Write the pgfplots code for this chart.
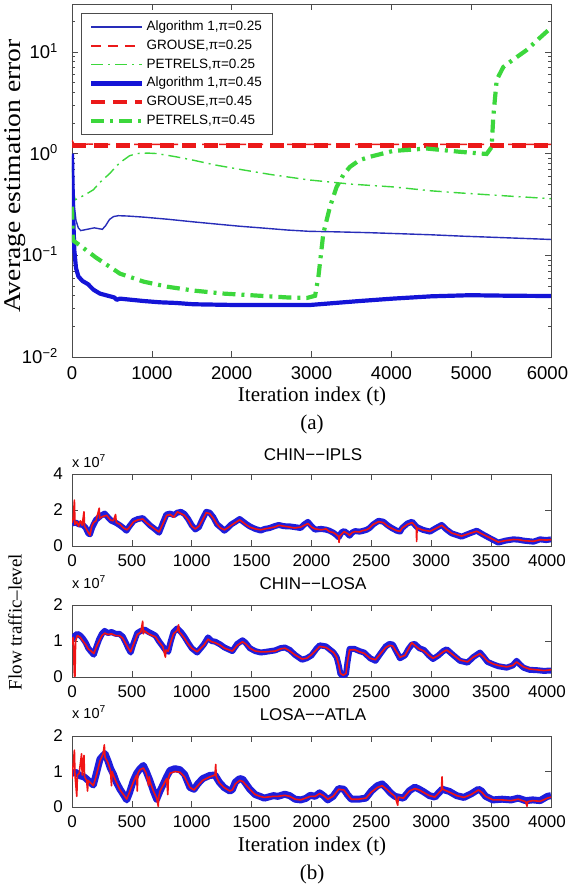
\documentclass[border=0pt]{standalone}
\usepackage{pgfplots}
\pgfplotsset{compat=1.18}
\usepackage{pgfplotstable}
\usepackage{graphicx}
\usepackage{fontspec}
\setmainfont{Liberation Serif}
\setsansfont{Liberation Sans}
\definecolor{mblue}{RGB}{20,20,215}
\definecolor{mbluethin}{RGB}{40,45,185}
\definecolor{mred}{RGB}{235,25,25}
\definecolor{mgreen}{RGB}{60,215,60}
\definecolor{bblue}{RGB}{30,30,220}
\definecolor{bred}{RGB}{240,20,20}

\pgfplotstableread{
t v
0 0.95
15 0.5
30 0.3
50 0.22
80 0.185
110 0.175
160 0.178
220 0.182
280 0.186
330 0.183
380 0.18
420 0.195
470 0.225
520 0.24
580 0.245
700 0.243
900 0.237
1200 0.226
1520 0.213
1800 0.203
2100 0.193
2400 0.185
2700 0.177
2970 0.172
3300 0.170
3700 0.167
4100 0.163
4500 0.159
4900 0.154
5300 0.150
5700 0.146
6000 0.143
}\algA

\pgfplotstableread{
t v
0 1.35
40 1.18
80 1.28
120 1.22
200 1.24
400 1.23
6000 1.23
}\grA

\pgfplotstableread{
t v
0 0.75
15 0.45
38 0.35
100 0.37
180 0.4
267 0.44
350 0.52
476 0.64
560 0.76
643 0.86
720 0.95
810 1.0
950 1.01
1060 1.0
1300 0.93
1520 0.86
1800 0.77
2145 0.69
2500 0.62
2970 0.55
3500 0.5
4020 0.47
4500 0.43
4860 0.41
5400 0.385
6000 0.36
}\peA

\pgfplotstableread{
t v
0 1.0
8 0.45
18 0.2
30 0.11
50 0.075
80 0.062
130 0.056
200 0.052
267 0.046
350 0.042
450 0.04
530 0.0385
560 0.0365
600 0.0375
700 0.0368
900 0.0355
1100 0.0345
1300 0.034
1520 0.033
2000 0.0325
2500 0.0325
2970 0.0324
3300 0.034
3600 0.0355
4020 0.0375
4500 0.0395
4985 0.0405
5500 0.0400
6000 0.0398
}\algB

\pgfplotstableread{
t v
0 1.2
6000 1.2
}\grB

\pgfplotstableread{
t v
0 0.3
8 0.18
13 0.14
100 0.125
300 0.095
601 0.066
900 0.055
1200 0.049
1520 0.045
1900 0.042
2353 0.040
2700 0.0385
2940 0.038
3045 0.040
3086 0.061
3148 0.164
3232 0.30
3315 0.47
3400 0.62
3482 0.74
3600 0.86
3733 0.93
4020 1.06
4443 1.12
4860 1.04
5194 0.99
5257 1.16
5277 2.3
5320 5.3
5403 7.1
5528 8.4
5695 10.4
5850 13.5
5966 16.3
6000 17.5
}\peB

% ---------- panel b1: CHIN--IPLS ----------
\pgfplotstableread{
t v
0 1.25
30 1.3
60 1.2
91 1.17
115 1.0
136 0.7
150 0.65
167 1.0
200 1.45
242 1.69
273 1.8
300 1.6
330 1.4
364 1.3
400 1.15
430 1.0
455 0.85
480 1.1
515 1.4
550 1.5
591 1.55
620 1.35
650 1.15
690 0.95
727 0.74
760 1.3
788 1.75
820 1.8
850 1.72
879 1.85
910 1.9
939 1.78
970 1.5
1000 1.15
1030 0.92
1060 1.05
1090 1.5
1121 1.9
1150 1.85
1180 1.6
1212 1.2
1240 1.05
1273 0.85
1300 1.0
1330 1.2
1364 1.34
1400 1.5
1430 1.35
1460 1.2
1485 1.09
1530 0.95
1576 0.86
1610 0.95
1651 1.0
1690 1.1
1727 1.17
1770 1.1
1818 1.09
1860 1.05
1909 1.0
1940 1.2
1970 1.34
2000 1.1
2030 0.91
2080 0.95
2121 0.91
2150 0.85
2182 0.74
2210 0.6
2227 0.48
2250 0.75
2273 0.83
2300 0.7
2318 0.57
2340 0.75
2364 0.83
2400 0.8
2424 0.83
2460 0.9
2485 1.0
2515 1.2
2560 1.4
2600 1.35
2636 1.15
2670 1.0
2712 0.85
2740 0.8
2757 1.0
2800 1.25
2840 1.35
2880 1.05
2934 0.89
2990 0.8
3040 1.0
3087 1.17
3130 0.9
3171 0.7
3254 0.52
3320 0.7
3380 0.85
3430 0.65
3491 0.43
3560 0.19
3620 0.3
3686 0.37
3730 0.35
3770 0.3
3853 0.24
3909 0.37
3960 0.33
4000 0.37
}\pbA

\pgfplotstableread{
t v
0 1.3
10 1.5
20 2.55
25 1.2
40 1.35
55 1.1
70 1.4
85 1.15
100 1.9
105 1.1
120 0.95
136 0.75
150 0.6
165 1.1
180 1.3
200 1.4
227 2.1
232 1.55
260 1.65
290 1.7
320 1.45
345 1.4
364 1.75
370 1.3
400 1.2
430 1.0
460 0.9
480 1.05
515 1.35
550 1.45
591 1.5
620 1.3
650 1.15
690 0.95
727 0.78
760 1.25
790 1.7
820 1.75
850 1.6
880 1.9
910 1.8
940 1.7
970 1.45
1000 1.1
1030 0.95
1060 1.1
1090 1.45
1121 1.85
1150 1.8
1180 1.55
1212 1.2
1240 1.0
1273 0.9
1300 1.0
1330 1.15
1364 1.3
1400 1.45
1430 1.3
1460 1.15
1485 1.05
1530 0.95
1576 0.9
1610 0.95
1651 1.0
1690 1.05
1727 1.15
1770 1.1
1818 1.05
1860 1.0
1909 1.05
1940 1.15
1970 1.25
2000 1.05
2030 0.95
2080 0.9
2121 0.95
2150 0.8
2182 0.75
2210 0.62
2227 0.52
2230 0.2
2235 0.55
2273 0.8
2300 0.7
2318 0.6
2340 0.75
2364 0.8
2400 0.78
2424 0.85
2460 0.9
2485 1.0
2515 1.2
2560 1.35
2600 1.3
2636 1.1
2670 0.98
2712 0.85
2740 0.82
2757 1.0
2800 1.2
2840 1.3
2875 1.05
2878 0.25
2882 1.0
2934 0.88
2990 0.82
3040 0.98
3087 1.15
3130 0.92
3171 0.72
3254 0.55
3320 0.7
3380 0.82
3430 0.65
3491 0.45
3560 0.22
3620 0.3
3686 0.36
3730 0.35
3770 0.3
3853 0.26
3909 0.35
3960 0.33
4000 0.35
}\pbAr

% ---------- panel b2: CHIN--LOSA ----------
\pgfplotstableread{
t v
0 1.05
25 1.15
45 1.2
70 1.15
91 1.07
115 0.95
136 0.8
160 0.7
182 0.62
205 0.85
227 1.05
250 1.2
273 1.28
300 1.22
330 1.25
364 1.2
395 1.2
424 1.12
450 0.95
470 0.8
490 0.68
510 0.9
545 1.22
575 1.28
606 1.32
640 1.25
670 1.2
697 1.15
725 1.0
758 0.85
780 0.75
803 0.7
825 1.0
848 1.25
879 1.35
910 1.25
939 1.12
970 0.95
1000 0.8
1045 0.68
1070 0.78
1100 0.9
1136 1.1
1165 1.0
1197 0.98
1240 0.9
1273 0.82
1339 0.72
1380 0.92
1424 1.02
1450 0.95
1485 0.8
1530 0.72
1576 0.68
1620 0.7
1697 0.74
1740 0.8
1778 0.82
1820 0.75
1860 0.62
1921 0.48
1960 0.52
2000 0.6
2040 0.78
2068 0.88
2121 0.85
2184 0.68
2210 0.55
2227 0.33
2242 0.08
2265 0.04
2288 0.08
2300 0.4
2318 0.78
2359 0.78
2400 0.72
2439 0.68
2490 0.52
2534 0.45
2576 0.65
2620 0.85
2651 0.92
2679 0.9
2710 0.7
2739 0.52
2780 0.6
2810 0.78
2837 0.9
2863 0.92
2900 0.8
2940 0.75
2980 0.6
3015 0.5
3060 0.6
3100 0.72
3129 0.77
3180 0.62
3240 0.45
3303 0.4
3350 0.55
3407 0.68
3440 0.55
3470 0.42
3519 0.35
3560 0.3
3630 0.26
3680 0.32
3713 0.45
3740 0.35
3770 0.26
3820 0.2
3880 0.19
3940 0.17
4000 0.18
}\pbB

\pgfplotstableread{
t v
0 0.9
10 1.1
20 0.02
25 0.02
30 1.0
45 1.15
70 1.1
91 1.0
115 0.9
136 0.78
160 0.72
182 0.65
205 0.85
227 1.0
250 1.15
273 1.22
300 1.18
330 1.2
364 1.15
395 1.15
424 1.08
450 0.92
470 0.8
490 0.7
510 0.88
545 1.18
575 1.25
590 1.55
595 1.2
606 1.28
640 1.2
670 1.15
697 1.12
725 0.98
758 0.85
780 0.55
785 0.75
803 0.72
825 0.98
848 1.2
879 1.3
890 1.45
895 1.25
910 1.2
939 1.08
970 0.92
1000 0.8
1045 0.7
1070 0.78
1100 0.88
1136 1.05
1165 0.98
1197 0.95
1240 0.88
1273 0.8
1339 0.72
1380 0.88
1424 0.98
1450 0.92
1485 0.8
1530 0.72
1576 0.7
1620 0.7
1697 0.72
1740 0.78
1778 0.8
1820 0.72
1860 0.62
1921 0.5
1960 0.52
2000 0.62
2040 0.75
2068 0.85
2121 0.82
2184 0.68
2210 0.55
2227 0.35
2242 0.1
2265 0.05
2288 0.1
2300 0.42
2318 0.75
2359 0.76
2400 0.7
2439 0.66
2490 0.52
2534 0.48
2576 0.65
2620 0.82
2651 0.88
2679 0.86
2710 0.7
2739 0.55
2780 0.6
2810 0.78
2837 0.95
2863 0.88
2900 0.78
2940 0.72
2980 0.6
3015 0.52
3060 0.6
3100 0.7
3129 0.75
3180 0.62
3240 0.47
3303 0.42
3350 0.55
3407 0.65
3440 0.55
3470 0.44
3519 0.36
3560 0.32
3630 0.28
3680 0.32
3713 0.42
3740 0.35
3770 0.28
3820 0.22
3880 0.2
3940 0.18
4000 0.2
}\pbBr

% ---------- panel b3: LOSA--ATLA ----------
\pgfplotstableread{
t v
0 0.95
30 0.98
67 0.88
100 0.85
122 0.79
150 0.7
178 0.62
200 0.9
234 1.35
260 1.45
276 1.5
300 1.3
320 1.1
345 0.93
370 0.7
401 0.5
430 0.35
457 0.2
480 0.4
512 0.74
540 0.95
568 1.08
596 1.17
620 1.0
651 0.74
680 0.45
707 0.22
735 0.45
763 0.65
790 0.85
818 1.03
860 1.08
902 1.05
940 0.92
985 0.55
1019 0.5
1050 0.65
1091 0.8
1151 0.89
1194 0.9
1230 0.7
1270 0.55
1318 0.45
1339 0.49
1364 0.7
1400 0.8
1426 0.78
1485 0.5
1530 0.35
1570 0.3
1606 0.25
1682 0.32
1720 0.3
1777 0.36
1818 0.32
1863 0.22
1909 0.2
1951 0.24
1990 0.33
2030 0.3
2068 0.4
2100 0.32
2136 0.2
2180 0.3
2227 0.52
2271 0.5
2300 0.35
2333 0.22
2394 0.22
2454 0.25
2500 0.45
2550 0.6
2590 0.65
2621 0.55
2660 0.4
2697 0.3
2767 0.25
2818 0.46
2863 0.56
2900 0.5
2941 0.42
2985 0.32
3030 0.28
3091 0.5
3151 0.44
3212 0.32
3272 0.27
3333 0.37
3394 0.5
3420 0.45
3454 0.3
3515 0.2
3591 0.22
3666 0.2
3727 0.25
3788 0.18
3848 0.2
3909 0.18
3970 0.3
4000 0.32
}\pbC

\pgfplotstableread{
t v
0 0.8
10 1.2
20 1.6
25 0.9
40 0.3
45 0.9
60 0.95
80 1.5
85 0.9
100 1.45
105 0.85
122 0.75
130 0.45
135 0.75
150 0.7
178 0.6
200 0.85
234 1.3
260 1.5
270 1.75
276 1.4
300 1.25
320 1.05
330 0.6
335 1.0
345 0.9
370 0.7
401 0.48
430 0.35
457 0.22
480 0.42
512 0.7
540 0.9
545 0.45
550 0.95
568 1.05
596 1.1
620 0.95
640 0.6
645 0.85
651 0.72
680 0.45
707 0.25
720 0.02
725 0.3
735 0.45
763 0.62
790 0.8
800 0.35
805 0.82
818 0.95
860 1.0
902 0.98
940 0.85
985 0.55
1019 0.48
1050 0.6
1091 0.75
1151 0.85
1194 0.9
1200 1.2
1205 0.85
1230 0.68
1270 0.55
1318 0.45
1339 0.48
1364 0.65
1400 0.75
1426 0.72
1485 0.5
1530 0.35
1570 0.3
1606 0.27
1682 0.3
1720 0.3
1777 0.33
1818 0.3
1863 0.22
1909 0.2
1951 0.25
1990 0.3
2030 0.3
2068 0.38
2100 0.32
2136 0.22
2180 0.3
2227 0.5
2271 0.48
2300 0.35
2333 0.22
2394 0.22
2454 0.25
2500 0.42
2550 0.55
2590 0.6
2621 0.52
2660 0.4
2697 0.3
2720 0.05
2725 0.28
2767 0.25
2818 0.45
2863 0.52
2900 0.48
2941 0.4
2985 0.32
3030 0.28
3085 0.48
3090 0.85
3095 0.5
3151 0.42
3212 0.32
3272 0.27
3333 0.35
3394 0.48
3420 0.42
3454 0.3
3515 0.2
3591 0.2
3666 0.18
3727 0.22
3788 0.15
3800 0.02
3805 0.15
3848 0.18
3909 0.16
3970 0.25
4000 0.28
}\pbCr

\pgfplotsset{
  mstyle/.style={
    scale only axis,
    tick align=inside,
    axis line style={black!70, line width=0.7pt},
    tick style={black!70, line width=0.6pt},
    major tick length=6pt,
    minor tick length=3pt,
    /pgf/number format/1000 sep={},
    /pgf/number format/assume math mode=true,
    clip=true,
  },
  bstyle/.style={
    mstyle,
    width=479pt,
    xmin=0, xmax=4000, ymin=0,
    xtick={0,500,...,4000},
    xticklabels={0,500,1000,1500,2000,2500,3000,3500,{\kern-8pt 4000}},
    ticklabel style={font=\sffamily\fontsize{17}{17}\selectfont},
    xticklabel style={anchor=north, inner sep=0pt, yshift=-8pt},
    yticklabel style={anchor=east, inner sep=0pt, xshift=-9pt},
  },
}

\begin{document}
\begin{tikzpicture}[x=1pt,y=1pt]
\useasboundingbox (0,0) rectangle (568,-887);

% ================= (a) =================
\begin{axis}[
  mstyle,
  at={(72pt,-357pt)}, anchor=south west,
  width=479pt, height=353pt,
  ymode=log, xmin=0, xmax=6000, ymin=0.01, ymax=29.5,
  xtick={0,1000,...,6000},
  xticklabels={0,1000,2000,3000,4000,5000,{\kern-7pt 6000}},
  ytick={0.01,0.1,1,10},
  yticklabels={10\textsuperscript{−2},10\textsuperscript{−1},10\textsuperscript{0},10\textsuperscript{1}},
  minor ytick={0.02,0.03,0.04,0.05,0.06,0.07,0.08,0.09,0.2,0.3,0.4,0.5,0.6,0.7,0.8,0.9,2,3,4,5,6,7,8,9,20},
  ticklabel style={font=\sffamily\fontsize{18.5}{18.5}\selectfont},
  xticklabel style={anchor=north, inner sep=0pt, yshift=-9pt},
  yticklabel style={anchor=base east, inner sep=0pt, xshift=-14pt, yshift=-6.5pt},
  legend style={at={(0.0188,0.9737)}, anchor=north west, draw=black!70, line width=0.6pt,
    fill=white, font=\sffamily\fontsize{13.5}{13.5}\selectfont,
    inner xsep=8pt, inner ysep=5pt, row sep=1.8pt,
    nodes={inner sep=2pt, text height=10pt, text depth=3pt}},
  legend cell align=left,
  legend image code/.code={\draw[#1] (0pt,0pt) -- (51pt,0pt);},
]
\addplot[mbluethin, line width=1.4pt] table[x=t,y=v] {\algA};
\addlegendentry{Algorithm 1,π=0.25}
\addplot[mred, line width=1.4pt, dash pattern=on 10pt off 7pt] table[x=t,y=v] {\grA};
\addlegendentry{GROUSE,π=0.25}
\addplot[mgreen, line width=1.4pt, dash pattern=on 12pt off 5pt on 2pt off 5pt] table[x=t,y=v] {\peA};
\addlegendentry{PETRELS,π=0.25}
\addplot[mblue, line width=4.2pt, line join=round] table[x=t,y=v] {\algB};
\addlegendentry{Algorithm 1,π=0.45}
\addplot[mred, line width=4.2pt, dash pattern=on 14pt off 8pt] table[x=t,y=v] {\grB};
\addlegendentry{GROUSE,π=0.45}
\addplot[mgreen, line width=4.2pt, dash pattern=on 13pt off 6pt on 3pt off 6pt] table[x=t,y=v] {\peB};
\addlegendentry{PETRELS,π=0.45}
\end{axis}

\node[font=\fontsize{21}{21}\selectfont] at (312,-396) {Iteration index (t)};
\node[font=\fontsize{21}{21}\selectfont] at (312,-424) {(a)};
\node[rotate=90, font=\fontsize{24}{24}\selectfont] at (15,-176) {\scalebox{1.15}[1]{Average estimation error}};

% ================= (b) panel 1 =================
\begin{axis}[
  bstyle,
  at={(72pt,-546pt)}, anchor=south west,
  height=72pt, ymax=4, ytick={0,2,4},
]
\addplot[bblue, line width=6pt, line join=round] table[x=t,y=v] {\pbA};
\addplot[bred, line width=1.6pt, line join=round] table[x=t,y=v] {\pbAr};
\end{axis}
\node[font=\sffamily\fontsize{17}{17}\selectfont] at (313,-455) {CHIN−−IPLS};
\node[font=\sffamily\fontsize{14.5}{14.5}\selectfont, anchor=base west, inner sep=0pt] at (72,-467) {x 10\textsuperscript{7}};

% ================= (b) panel 2 =================
\begin{axis}[
  bstyle,
  at={(72pt,-677pt)}, anchor=south west,
  height=72pt, ymax=2, ytick={0,1,2},
]
\addplot[bblue, line width=6pt, line join=round] table[x=t,y=v] {\pbB};
\addplot[bred, line width=1.6pt, line join=round] table[x=t,y=v] {\pbBr};
\end{axis}
\node[font=\sffamily\fontsize{17}{17}\selectfont] at (313,-584) {CHIN−−LOSA};
\node[font=\sffamily\fontsize{14.5}{14.5}\selectfont, anchor=base west, inner sep=0pt] at (72,-588) {x 10\textsuperscript{7}};

% ================= (b) panel 3 =================
\begin{axis}[
  bstyle,
  at={(72pt,-807pt)}, anchor=south west,
  height=71pt, ymax=2, ytick={0,1,2},
]
\addplot[bblue, line width=7pt, line join=round] table[x=t,y=v] {\pbC};
\addplot[bred, line width=1.6pt, line join=round] table[x=t,y=v] {\pbCr};
\end{axis}
\node[font=\sffamily\fontsize{17}{17}\selectfont] at (313,-715) {LOSA−−ATLA};
\node[font=\sffamily\fontsize{14.5}{14.5}\selectfont, anchor=base west, inner sep=0pt] at (72,-718) {x 10\textsuperscript{7}};

\node[font=\fontsize{21}{21}\selectfont] at (312,-846) {Iteration index (t)};
\node[font=\fontsize{21}{21}\selectfont] at (312,-874) {(b)};
\node[rotate=90, font=\fontsize{19}{19}\selectfont] at (15,-622) {Flow traffic--level};
\end{tikzpicture}
\end{document}
